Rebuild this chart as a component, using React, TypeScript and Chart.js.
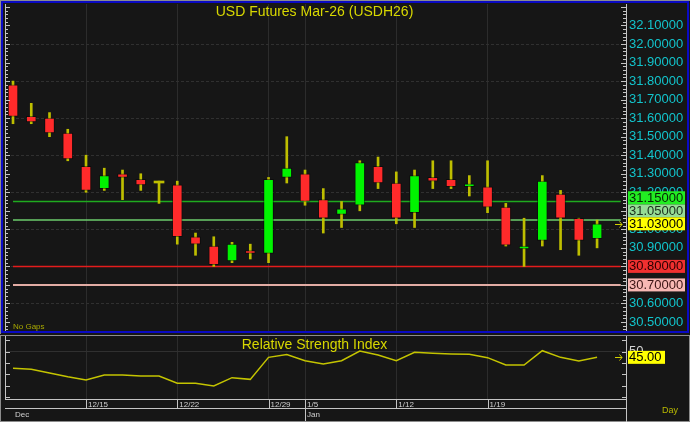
import React, { useEffect, useRef } from 'react';
import { Chart, registerables } from 'chart.js';

Chart.register(...registerables);

const FONT = "'Liberation Sans', Arial, Helvetica, sans-serif";

// ---- data ----
const opens = [31.78, 31.61, 31.60, 31.52, 31.34, 31.22, 31.30, 31.27, 31.25, 31.24, 30.96, 30.91, 30.83, 30.885, 30.87, 31.28, 31.30, 31.16, 31.08, 31.13, 31.34, 31.25, 31.09, 31.28, 31.27, 31.23, 31.23, 31.12, 30.895, 30.94, 31.19, 31.06, 30.95];
const highs = [31.80, 31.68, 31.63, 31.54, 31.40, 31.33, 31.32, 31.30, 31.26, 31.26, 30.98, 30.96, 30.93, 30.92, 31.28, 31.50, 31.32, 31.22, 31.15, 31.37, 31.39, 31.31, 31.32, 31.37, 31.37, 31.29, 31.37, 31.14, 31.06, 31.29, 31.21, 31.06, 31.05];
const lows = [31.57, 31.57, 31.50, 31.37, 31.20, 31.21, 31.16, 31.21, 31.14, 30.92, 30.86, 30.80, 30.82, 30.84, 30.82, 31.25, 31.13, 30.98, 31.01, 31.10, 31.22, 31.03, 31.01, 31.22, 31.22, 31.18, 31.09, 30.91, 30.80, 30.91, 30.89, 30.86, 30.90];
const closes = [31.61, 31.58, 31.52, 31.38, 31.21, 31.29, 31.28, 31.24, 31.25, 30.96, 30.92, 30.81, 30.92, 30.87, 31.27, 31.33, 31.15, 31.06, 31.11, 31.36, 31.25, 31.06, 31.29, 31.26, 31.23, 31.245, 31.12, 30.915, 30.91, 31.26, 31.06, 30.94, 31.03];
const rsiValues = [35.3, 34.4, 31.2, 27.9, 25.0, 29.4, 29.4, 28.5, 28.5, 22.0, 22.0, 19.6, 27.0, 25.5, 45.0, 47.4, 42.0, 39.1, 42.0, 50.6, 47.1, 42.0, 49.5, 48.6, 48.0, 47.7, 44.7, 38.2, 38.2, 50.9, 45.0, 41.8, 45.0];

const weekTickIndex = [0, 4, 9, 14, 16, 21, 26];
const weekTickLabels = [['', 'Dec'], ['12/15'], ['12/22'], ['12/29'], ['1/5', 'Jan'], ['1/12'], ['1/19']];
const priceTicks = [30.5, 30.6, 30.7, 30.8, 30.9, 31.0, 31.1, 31.2, 31.3, 31.4, 31.5, 31.6, 31.7, 31.8, 31.9, 32.0, 32.1];
const rsiTicks = [10, 20, 30, 40, 50, 60];
const rsiLabelled = [50];

const levelValues = [31.15, 31.05, 30.80, 30.70];
const levelLineColors = ['#1faa1f', '#6ccc6c', '#e41c1c', '#e2aca4'];
const levelBoxColors = ['#22ee22', '#96dc96', '#f03030', '#f8b8b4'];
const levelTextColors = ['#062006', '#1c2c1c', '#2a0000', '#3a1414'];

const TITLE = 'USD Futures Mar-26 (USDH26)';
const RSI_TITLE = 'Relative Strength Index';

// axis ranges
const X_MIN = -0.384;
const X_MAX = 33.64;
const PRICE_MIN = 30.446;
const PRICE_MAX = 32.216;
const RSI_MIN = 8.1;
const RSI_MAX = 63.9;
const LEVEL_LINE_END = 33.3;

// styles
const RED = '#ff2a2a';
const GREEN = '#00f400';
const WICK = '#bebe00';
const GRID = '#2c2c2c';
const CYAN = '#12c4cc';
const TICKMARK = '#c4c4c4';
const FRAME_GRAY = '#8c8c8c';
const BLUE = '#0a0ac4';
const YELLOW_TEXT = '#d8d800';

const zeroPad = (s: any) => {
  s.paddingLeft = 0;
  s.paddingRight = 0;
  s.paddingTop = 0;
  s.paddingBottom = 0;
};

const idx = closes.map((_, i) => i);

const mainDecor = {
  id: 'mainDecor',
  afterDraw(chart: any) {
    const { ctx, chartArea: a, scales } = chart;
    const y = scales.y;
    ctx.save();
    // frames
    ctx.fillStyle = FRAME_GRAY;
    ctx.fillRect(0, 0, 690, 1);
    ctx.fillRect(0, 0, 1, 334);
    ctx.strokeStyle = BLUE;
    ctx.lineWidth = 2;
    ctx.strokeRect(2, 2, 686, 330);

    // axis lines and ticks
    ctx.strokeStyle = TICKMARK;
    ctx.lineWidth = 1;
    ctx.beginPath();
    ctx.moveTo(5.5, a.top);
    ctx.lineTo(5.5, 331);
    ctx.moveTo(a.right - 0.5, a.top);
    ctx.lineTo(a.right - 0.5, 331);
    for (let k = Math.ceil(PRICE_MIN / 0.02); k <= Math.floor(PRICE_MAX / 0.02); k++) {
      const py = Math.round(y.getPixelForValue(k * 0.02)) + 0.5;
      const major = k % 5 === 0;
      ctx.moveTo(5, py);
      ctx.lineTo(major ? 10 : 8, py);
      ctx.moveTo(a.right, py);
      ctx.lineTo(a.right - (major ? 6 : 4), py);
    }
    ctx.stroke();

    // title
    ctx.font = `14px ${FONT}`;
    ctx.fillStyle = YELLOW_TEXT;
    ctx.textAlign = 'center';
    ctx.textBaseline = 'middle';
    ctx.fillText(TITLE, (a.left + a.right) / 2 - 2, 12);

    ctx.font = `8px ${FONT}`;
    ctx.fillStyle = '#a8a800';
    ctx.textAlign = 'left';
    ctx.fillText('No Gaps', 13, 327);

    // price boxes
    const H = 13;
    const cur = closes[closes.length - 1];
    const curY = y.getPixelForValue(cur);
    const curTop = curY - H / 2;
    const drawBox = (top: number, v: number, bg: string, fg: string) => {
      ctx.fillStyle = bg;
      ctx.fillRect(628, top, 57, H);
      ctx.fillStyle = fg;
      ctx.font = `13px ${FONT}`;
      ctx.textAlign = 'left';
      ctx.textBaseline = 'middle';
      ctx.fillText(v.toFixed(5), 629, top + H / 2 + 0.5);
    };
    const items = levelValues.map((v, k) => ({ v, k, py: y.getPixelForValue(v) }));
    const above = items.filter((it) => it.py < curY).sort((p, q) => q.py - p.py);
    const below = items.filter((it) => it.py >= curY).sort((p, q) => p.py - q.py);
    let limit = curTop;
    for (const it of above) {
      let top = it.py - H / 2;
      if (top + H > limit) top = limit - H;
      drawBox(top, it.v, levelBoxColors[it.k], levelTextColors[it.k]);
      limit = top;
    }
    let limit2 = curTop + H;
    for (const it of below) {
      let top = it.py - H / 2;
      if (top < limit2) top = limit2;
      drawBox(top, it.v, levelBoxColors[it.k], levelTextColors[it.k]);
      limit2 = top + H;
    }
    drawBox(curTop, cur, '#ffff00', '#000000');

    // current marker arrow
    ctx.strokeStyle = '#d0d000';
    ctx.lineWidth = 1;
    const ay = Math.round(curY) + 0.5;
    ctx.beginPath();
    ctx.moveTo(615, ay);
    ctx.lineTo(622, ay);
    ctx.moveTo(619.5, ay - 3);
    ctx.lineTo(622, ay);
    ctx.lineTo(619.5, ay + 3);
    ctx.stroke();
    ctx.restore();
  },
};

const rsiDecor = {
  id: 'rsiDecor',
  afterDraw(chart: any) {
    const { ctx, chartArea: a, scales } = chart;
    const y = scales.y;
    const x = scales.x;
    ctx.save();
    ctx.strokeStyle = FRAME_GRAY;
    ctx.lineWidth = 1;
    ctx.strokeRect(0.5, 1.5, 689, 86);

    ctx.strokeStyle = TICKMARK;
    ctx.beginPath();
    ctx.moveTo(5.5, a.top);
    ctx.lineTo(5.5, a.bottom);
    ctx.moveTo(a.right - 0.5, 2);
    ctx.lineTo(a.right - 0.5, 88);
    for (const t of rsiTicks) {
      const py = Math.round(y.getPixelForValue(t)) + 0.5;
      ctx.moveTo(5, py);
      ctx.lineTo(10, py);
      ctx.moveTo(a.right, py);
      ctx.lineTo(a.right - 5, py);
    }
    // date rows
    ctx.moveTo(5, a.bottom + 0.5);
    ctx.lineTo(a.right, a.bottom + 0.5);
    ctx.moveTo(5, 74.5);
    ctx.lineTo(a.right, 74.5);
    weekTickIndex.forEach((v, i) => {
      if (v === 0) return;
      const px = Math.round(x.getPixelForValue(v)) + 0.5;
      ctx.moveTo(px, a.bottom);
      ctx.lineTo(px, weekTickLabels[i].length > 1 ? 87 : 74.5);
    });
    ctx.stroke();

    ctx.font = `14px ${FONT}`;
    ctx.fillStyle = YELLOW_TEXT;
    ctx.textAlign = 'center';
    ctx.textBaseline = 'middle';
    ctx.fillText(RSI_TITLE, (a.left + a.right) / 2 - 2, 11.5);

    ctx.font = `9px ${FONT}`;
    ctx.fillStyle = '#b8b800';
    ctx.textAlign = 'left';
    ctx.fillText('Day', 662, 77);

    const last = rsiValues[rsiValues.length - 1];
    const ly = y.getPixelForValue(last);
    const H = 13;
    ctx.fillStyle = '#ffff00';
    ctx.fillRect(628, ly - H / 2, 37, H);
    ctx.fillStyle = '#000';
    ctx.font = `13px ${FONT}`;
    ctx.fillText(last.toFixed(2), 629, ly + 0.5);

    ctx.strokeStyle = '#d0d000';
    const ay = Math.round(ly) + 0.5;
    ctx.beginPath();
    ctx.moveTo(615, ay);
    ctx.lineTo(622, ay);
    ctx.moveTo(619.5, ay - 3);
    ctx.lineTo(622, ay);
    ctx.lineTo(619.5, ay + 3);
    ctx.stroke();
    ctx.restore();
  },
};

export default function App() {
  const mainRef = useRef<HTMLCanvasElement | null>(null);
  const rsiRef = useRef<HTMLCanvasElement | null>(null);

  useEffect(() => {
    const bodyColor = (ctx: any) => {
      const i = ctx.dataIndex;
      if (i === undefined) return RED;
      if (closes[i] === opens[i]) return WICK;
      return closes[i] > opens[i] ? GREEN : RED;
    };

    const main = new Chart(mainRef.current as HTMLCanvasElement, {
      type: 'bar',
      data: {
        datasets: [
          {
            type: 'bar',
            data: idx.map((i) => ({ x: i, y: [opens[i], closes[i]] })) as any,
            backgroundColor: bodyColor,
            borderColor: 'rgba(0,0,0,0.45)',
            borderWidth: (ctx: any) => (ctx.dataIndex !== undefined && closes[ctx.dataIndex] === opens[ctx.dataIndex] ? 0 : 1),
            borderSkipped: false,
            barThickness: 10,
            minBarLength: 2,
            grouped: false,
            order: 0,
          } as any,
          {
            type: 'bar',
            data: idx.map((i) => ({ x: i, y: [lows[i], highs[i]] })) as any,
            backgroundColor: WICK,
            borderWidth: 0,
            barThickness: 2,
            grouped: false,
            order: 1,
          } as any,
          ...levelValues.map((v, k) => ({
            type: 'line',
            data: [
              { x: 0, y: v },
              { x: LEVEL_LINE_END, y: v },
            ],
            borderColor: levelLineColors[k],
            borderWidth: k === 3 ? 2 : 1.5,
            pointRadius: 0,
            order: 3,
          })) as any,
        ],
      },
      options: {
        animation: false,
        responsive: false,
        maintainAspectRatio: false,
        devicePixelRatio: 1,
        events: [],
        layout: { padding: { left: 6, top: 4, right: 0, bottom: 2 } },
        plugins: { legend: { display: false }, tooltip: { enabled: false }, title: { display: false } },
        scales: {
          x: {
            type: 'linear',
            min: X_MIN,
            max: X_MAX,
            offset: false,
            afterBuildTicks: (s: any) => {
              s.ticks = weekTickIndex.map((v) => ({ value: v }));
            },
            afterFit: (s: any) => {
              s.height = 0;
              zeroPad(s);
            },
            ticks: { display: false },
            grid: {
              color: (c: any) => (c.tick && c.tick.value === 0 ? 'rgba(0,0,0,0)' : GRID),
              drawTicks: false,
              offset: false,
            },
            border: { display: false },
          },
          y: {
            type: 'linear',
            position: 'right',
            min: PRICE_MIN,
            max: PRICE_MAX,
            afterBuildTicks: (s: any) => {
              s.ticks = priceTicks.map((v) => ({ value: v }));
            },
            afterFit: (s: any) => {
              s.width = 63;
              zeroPad(s);
            },
            ticks: {
              color: CYAN,
              padding: 2,
              font: { size: 13, family: FONT },
              callback: (v: any) => Number(v).toFixed(5),
            },
            grid: {
              color: (c: any) => (c.tick && Math.round(c.tick.value * 10) % 2 === 0 ? '#303030' : 'rgba(0,0,0,0)'),
              drawTicks: false,
            },
            border: { display: false, dash: [3, 2] },
          },
        },
      } as any,
      plugins: [mainDecor],
    });

    const rsi = new Chart(rsiRef.current as HTMLCanvasElement, {
      type: 'line',
      data: {
        datasets: [
          {
            data: idx.map((i) => ({ x: i, y: rsiValues[i] })),
            borderColor: '#c4c400',
            borderWidth: 1.5,
            pointRadius: 0,
            tension: 0,
          },
        ],
      },
      options: {
        animation: false,
        responsive: false,
        maintainAspectRatio: false,
        devicePixelRatio: 1,
        events: [],
        layout: { padding: { left: 6, top: 2, right: 0, bottom: 0 } },
        plugins: { legend: { display: false }, tooltip: { enabled: false }, title: { display: false } },
        scales: {
          x: {
            type: 'linear',
            min: X_MIN,
            max: X_MAX,
            offset: false,
            afterBuildTicks: (s: any) => {
              s.ticks = weekTickIndex.map((v) => ({ value: v }));
            },
            afterFit: (s: any) => {
              s.height = 23;
              zeroPad(s);
            },
            ticks: {
              autoSkip: false,
              maxRotation: 0,
              minRotation: 0,
              align: 'start',
              labelOffset: 2,
              padding: 1,
              color: '#d0d0d0',
              font: { size: 8, family: FONT, lineHeight: 1.25 },
              callback: (_v: any, i: number) => weekTickLabels[i],
            },
            grid: {
              color: (c: any) => (c.tick && c.tick.value === 0 ? 'rgba(0,0,0,0)' : GRID),
              drawTicks: false,
            },
            border: { display: false },
          },
          y: {
            type: 'linear',
            position: 'right',
            min: RSI_MIN,
            max: RSI_MAX,
            afterBuildTicks: (s: any) => {
              s.ticks = rsiTicks.map((v) => ({ value: v }));
            },
            afterFit: (s: any) => {
              s.width = 63;
              zeroPad(s);
            },
            ticks: {
              color: '#d4d4d4',
              padding: 2,
              font: { size: 13, family: FONT },
              callback: (v: any) => (rsiLabelled.includes(Number(v)) ? String(v) : ''),
            },
            grid: {
              color: (c: any) => (c.tick && rsiLabelled.includes(c.tick.value) ? '#303030' : 'rgba(0,0,0,0)'),
              drawTicks: false,
            },
            border: { display: false },
          },
        },
      } as any,
      plugins: [rsiDecor],
    });

    return () => {
      main.destroy();
      rsi.destroy();
    };
  }, []);

  return (
    <div
      style={{
        position: 'fixed',
        left: 0,
        top: 0,
        width: 690,
        height: 422,
        background: '#161616',
        overflow: 'hidden',
      }}
    >
      <canvas
        ref={mainRef}
        width={690}
        height={334}
        style={{ position: 'absolute', left: 0, top: 0, width: 690, height: 334 }}
      />
      <canvas
        ref={rsiRef}
        width={690}
        height={88}
        style={{ position: 'absolute', left: 0, top: 334, width: 690, height: 88 }}
      />
    </div>
  );
}
